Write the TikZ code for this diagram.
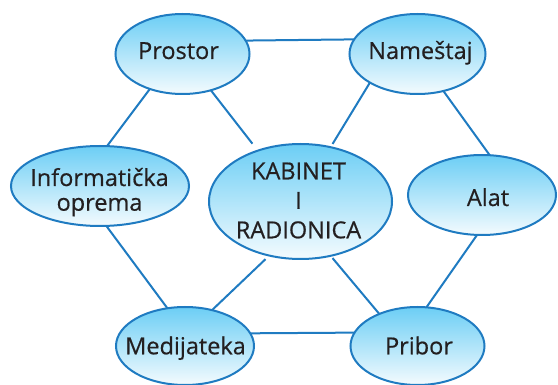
\documentclass[tikz,border=0pt]{standalone}
\usepackage{fontspec}
\setmainfont{Open Sans}[FakeBold=0.5]
\usetikzlibrary{shapes.geometric}
\definecolor{edgeblue}{HTML}{1F7BC1}
\definecolor{fillTop}{HTML}{6CCEF5}
\definecolor{fillBot}{HTML}{F4FBFE}
\definecolor{ink}{HTML}{231F20}
\begin{document}
\begin{tikzpicture}[x=1pt,y=1pt,
  bubble/.style={ellipse, draw=edgeblue, line width=2pt,
    top color=fillTop, bottom color=fillBot, inner sep=0pt, outer sep=0pt},
  lbl/.style={text=ink, font=\fontsize{23.5}{29.5}\selectfont,
    inner sep=0pt, align=center, anchor=base},
  link/.style={draw=edgeblue, line width=2pt}]
\useasboundingbox (0,0) rectangle (558,-385);

% ellipses
\node[bubble, minimum width=134pt, minimum height=80pt] (prostor) at (182.5,-54) {};
\node[bubble, minimum width=136pt, minimum height=80pt] (namestaj) at (417.5,-54) {};
\node[bubble, minimum width=178pt, minimum height=80pt] (info) at (100,-186) {};
\node[bubble, minimum width=183pt, minimum height=115pt] (kabinet) at (300.5,-201.5) {};
\node[bubble, minimum width=148pt, minimum height=80pt] (alat) at (482,-195) {};
\node[bubble, minimum width=138pt, minimum height=78pt] (medija) at (185,-346) {};
\node[bubble, minimum width=134pt, minimum height=78pt] (pribor) at (417.5,-346) {};

% captions (base anchor sits on the last line)
\node[lbl] (prostor-t) at (178.5,-59) {Prostor};
\node[lbl] (namestaj-t) at (420.5,-59) {Nameštaj};
\node[lbl, font=\fontsize{23.5}{24.7}\selectfont] (info-t) at (99.5,-210.7) {Informatička\\oprema};
\node[lbl] (kabinet-t) at (298.5,-238.3) {KABINET\\I\\RADIONICA};
\node[lbl] (alat-t) at (488,-206) {Alat};
\node[lbl] (medija-t) at (185.5,-354.3) {Medijateka};
\node[lbl] (pribor-t) at (419,-354.3) {Pribor};

% connectors
\draw[link] (prostor.12.4) -- (namestaj.167.7);
\draw[link] (prostor.227.8) -- (info.80.3);
\draw[link, shorten >=8.8pt] (prostor.308.7) -- (kabinet.130);
\draw[link, shorten >=3.8pt] (namestaj.211.5) -- (kabinet.61);
\draw[link] (namestaj.305.2) -- (alat.79.2);
\draw[link] (info.279.5) -- (medija.115.3);
\draw[link, shorten <=5.2pt] (kabinet.240.3) -- (medija.53.6);
\draw[link, shorten <=3pt] (kabinet.299) -- (pribor.140.2);
\draw[link] (alat.263.2) -- (pribor.77.7);
\draw[link] (medija.11.1) -- (pribor.168.5);
\end{tikzpicture}
\end{document}
